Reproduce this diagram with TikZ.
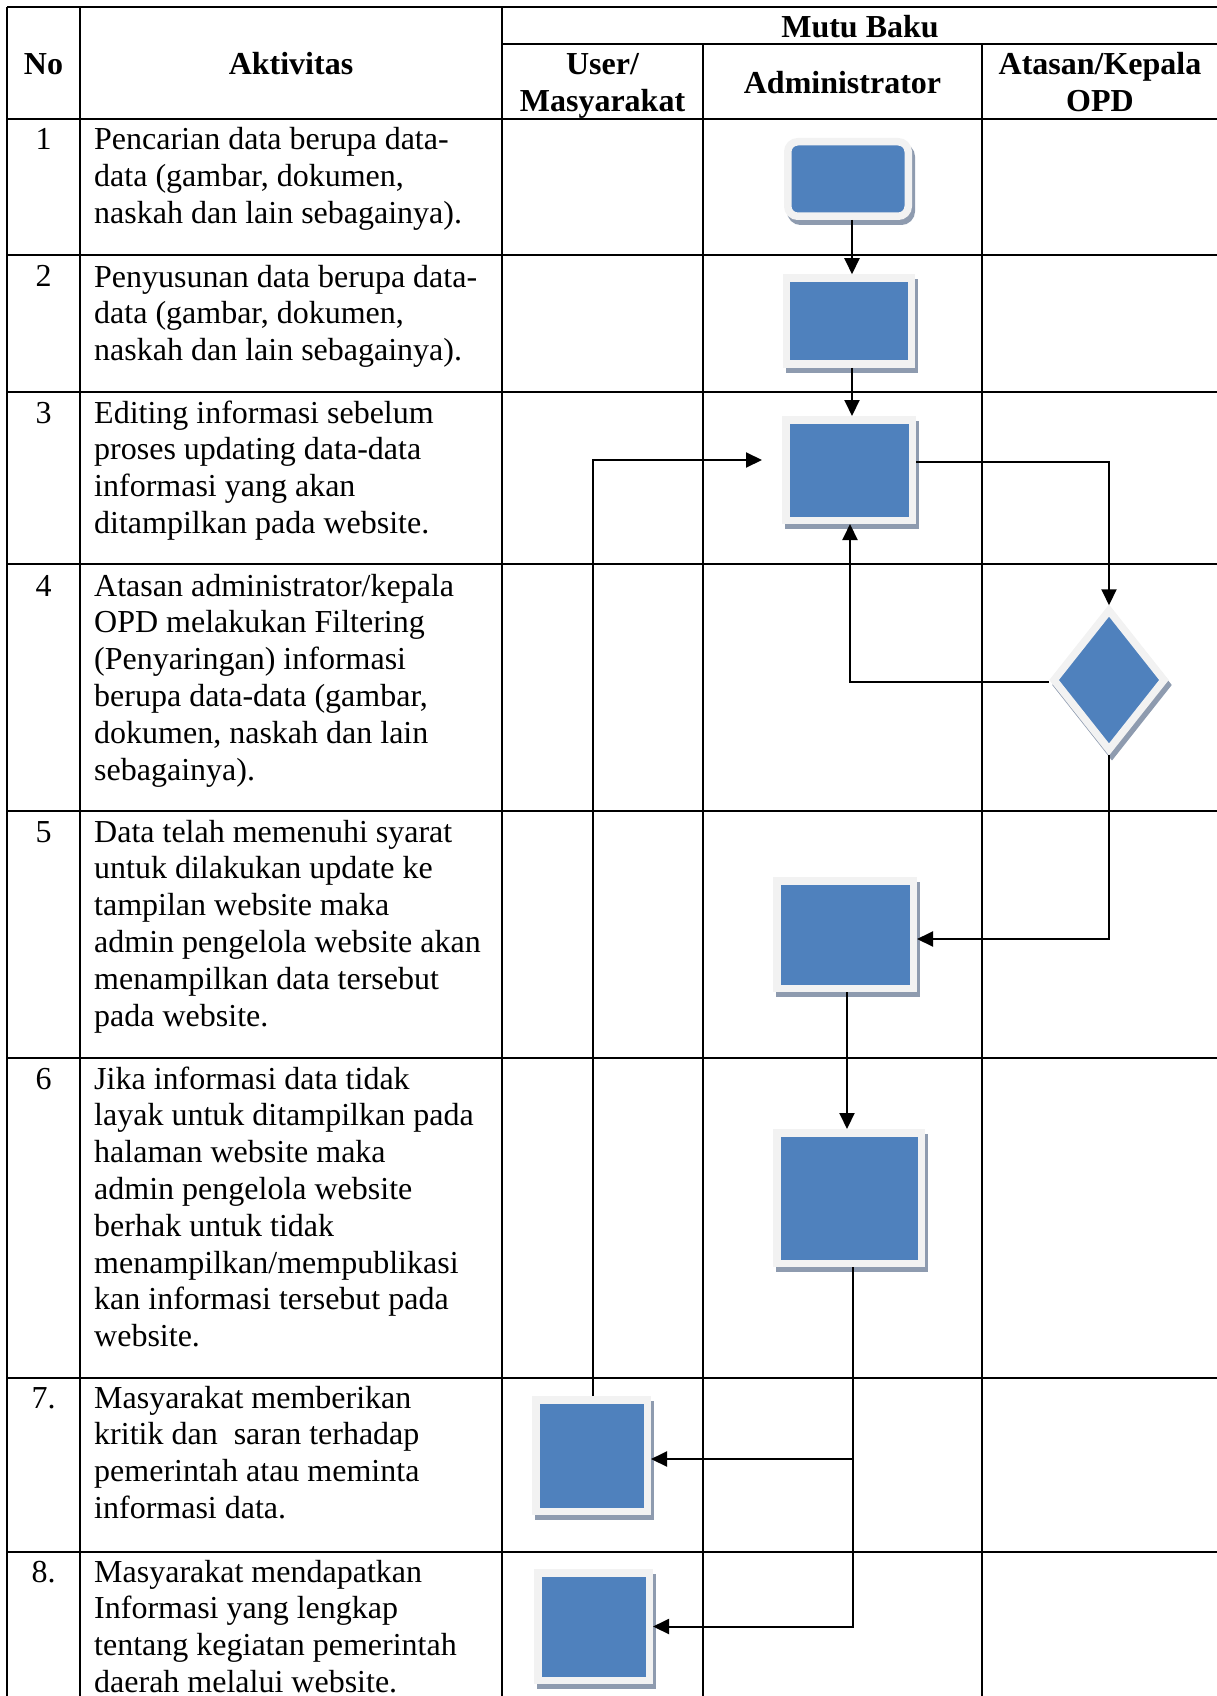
\documentclass[tikz,border=0pt]{standalone}
\usepackage{fontspec}
\setmainfont{Liberation Serif}
\usetikzlibrary{shapes.geometric,arrows.meta}
\definecolor{boxblue}{HTML}{4F81BD}
\definecolor{boxrim}{HTML}{F2F2F2}
\definecolor{boxshade}{HTML}{8E9BAF}
\begin{document}
\begin{tikzpicture}[x=1pt,y=-1pt,
  tbl/.style={line width=2pt},
  conn/.style={line width=2pt},
  arr/.style={conn,-{Triangle[length=16pt,width=15pt]}},
  shadebox/.style={preaction={fill=boxshade,draw=boxshade,transform canvas={xshift=3pt,yshift=-5pt}}},
  flowbox/.style={shadebox,draw=boxrim,fill=boxblue,line width=7.5pt,inner sep=0pt},
  cell/.style={font=\fontsize{32}{36.8}\selectfont,inner sep=0pt,align=left,anchor=base west},
  num/.style={font=\fontsize{32}{36.8}\selectfont,inner sep=0pt,anchor=base},
  head/.style={font=\fontsize{32}{37}\selectfont\bfseries,inner sep=0pt,align=center}]
\useasboundingbox (0,0) rectangle (1217,1696);
\clip (0,0) rectangle (1217,1696);
% table
\draw[tbl] (7,7) -- (1230,7);
\draw[tbl] (502,44) -- (1230,44);
\foreach \yy in {119,255,392,564,811,1058,1378,1552} {\draw[tbl] (7,\yy) -- (1230,\yy);}
\foreach \xx in {7,80,502} {\draw[tbl] (\xx,7) -- (\xx,1710);}
\foreach \xx in {703,982} {\draw[tbl] (\xx,44) -- (\xx,1710);}
% headers
\node[head] (hno) at (43.5,64) {No};
\node[head] (hakt) at (291,64) {Aktivitas};
\node[head] (hmutu) at (860,26.5) {Mutu Baku};
\node[head] (huser) at (602.5,86) {User/\\Masyarakat};
\node[head] (hadm) at (842.5,83) {Administrator};
\node[head] (hopd) at (1100,82) {Atasan/Kepala\\OPD};
% numbers
\node[num] (n1) at (43.5,150) {1};
\node[num] (n2) at (43.5,287) {2};
\node[num] (n3) at (43.5,423) {3};
\node[num] (n4) at (43.5,596) {4};
\node[num] (n5) at (43.5,842) {5};
\node[num] (n6) at (43.5,1089) {6};
\node[num] (n7) at (43.5,1408) {7.};
\node[num] (n8) at (43.5,1582) {8.};
% activities (anchored at the baseline of the last line)
\node[cell] (t1) at (94,223.6) {Pencarian data berupa data-\\data (gambar, dokumen,\\naskah dan lain sebagainya).};
\node[cell] (t2) at (94,360.6) {Penyusunan data berupa data-\\data (gambar, dokumen,\\naskah dan lain sebagainya).};
\node[cell] (t3) at (94,533.4) {Editing informasi sebelum\\proses updating data-data\\informasi yang akan\\ditampilkan pada website.};
\node[cell] (t4) at (94,780) {Atasan administrator/kepala\\OPD melakukan Filtering\\(Penyaringan) informasi\\berupa data-data (gambar,\\dokumen, naskah dan lain\\sebagainya).};
\node[cell] (t5) at (94,1026) {Data telah memenuhi syarat\\untuk dilakukan update ke\\tampilan website maka\\admin pengelola website akan\\menampilkan data tersebut\\pada website.};
\node[cell] (t6) at (94,1346.6) {Jika informasi data tidak\\layak untuk ditampilkan pada\\halaman website maka\\admin pengelola website\\berhak untuk tidak\\menampilkan/mempublikasi\\kan informasi tersebut pada\\website.};
\node[cell] (t7) at (94,1518.4) {Masyarakat memberikan\\kritik dan\ \ saran terhadap\\pemerintah atau meminta\\informasi data.};
\node[cell] (t8) at (94,1692.4) {Masyarakat mendapatkan\\Informasi yang lengkap\\tentang kegiatan pemerintah\\daerah melalui website.};
% flow shapes
\node[flowbox,rounded corners=10pt,minimum width=120.5pt,minimum height=74.5pt] (b1) at (848,179) {};
\node[flowbox,minimum width=125pt,minimum height=86pt] (b2) at (849,321) {};
\node[flowbox,minimum width=126.5pt,minimum height=100.5pt] (b3) at (849,470) {};
\node[flowbox,diamond,minimum width=113pt,minimum height=142pt] (d4) at (1109,680) {};
\node[flowbox,minimum width=136.5pt,minimum height=107.5pt] (b5) at (845,934.5) {};
\node[flowbox,minimum width=144.5pt,minimum height=130.5pt] (b6) at (849,1198) {};
\node[flowbox,minimum width=111.5pt,minimum height=111.5pt] (b7) at (591.5,1455.5) {};
\node[flowbox,minimum width=111.5pt,minimum height=107.5pt] (b8) at (593.5,1626.5) {};
\coordinate (in3) at ([xshift=-20pt,yshift=10pt]b3.west);
% connectors
\draw[arr] ([xshift=4pt]b1.south) -- ([xshift=4pt]b1.south |- b2.north);
\draw[arr] ([xshift=3pt]b2.south) -- ([xshift=3pt]b2.south |- b3.north);
\draw[arr] ([yshift=8pt]b3.east) -| (d4.north);
\draw[arr] ([yshift=-2pt]d4.west) -| ([xshift=1pt]b3.south);
\draw[arr] (d4.south) |- ([yshift=-4.5pt]b5.east);
\draw[arr] ([xshift=2pt]b5.south) -- ([xshift=2pt]b5.south |- b6.north);
\draw[arr] ([xshift=4pt]b6.south) |- ([yshift=-3.5pt]b7.east);
\draw[arr] ([xshift=4pt]b6.south) |- (b8.east);
\draw[arr] ([xshift=1.5pt]b7.north) |- (in3);
\end{tikzpicture}
\end{document}
